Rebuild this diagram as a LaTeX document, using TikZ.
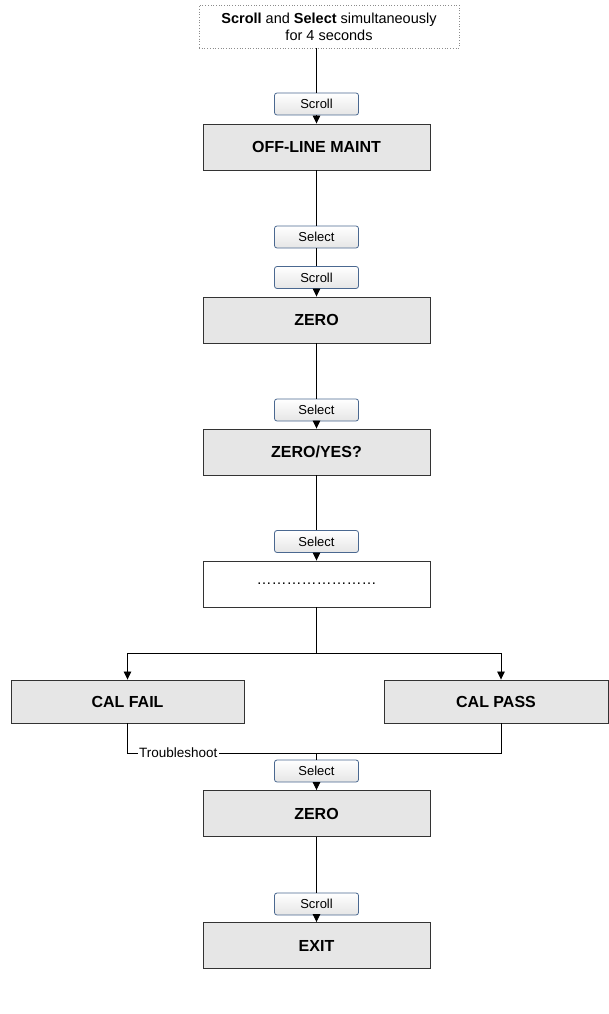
\documentclass[tikz,border=0pt]{standalone}
\usepackage{fontspec}
\setmainfont{Liberation Sans}
\usetikzlibrary{arrows.meta,shadings}
\definecolor{btnborder}{HTML}{4A6890}
\definecolor{boxfill}{HTML}{E6E6E6}
\definecolor{boxborder}{HTML}{333333}
\tikzset{
  btn/.style={draw=btnborder, line width=0.8pt, rounded corners=2.5pt, top color=white, bottom color=black!10,
    minimum width=84pt, minimum height=22pt, inner sep=0pt, font=\fontsize{13}{14}\selectfont},
  mainbox/.style={draw=boxborder, line width=0.9pt, fill=boxfill, minimum width=227pt, minimum height=46pt,
    inner sep=0pt, font=\fontsize{16}{18}\selectfont\bfseries},
  calbox/.style={mainbox, minimum height=43pt},
  topbox/.style={draw=black!45, dotted, line width=0.7pt, minimum width=260pt, minimum height=43pt,
    inner sep=0pt, align=center, font=\fontsize{14.5}{17}\selectfont},
  conn/.style={draw=black, line width=0.8pt},
  arr/.style={conn, -{Triangle[length=8pt,width=7.5pt]}},
}
\begin{document}
\begin{tikzpicture}[x=1pt,y=-1pt]
\useasboundingbox (0,0) rectangle (609,1014);
\node[topbox] (start) at (329,26.5) {\textbf{Scroll} and \textbf{Select} simultaneously\\for 4 seconds};
\node[btn] (b1) at (316.5,104) {Scroll};
\node[mainbox] (off) at (316.5,147) {OFF-LINE MAINT};
\node[btn] (b2) at (316.5,237) {Select};
\node[btn] (b3) at (316.5,277.5) {Scroll};
\node[mainbox] (zero) at (316.5,320) {ZERO};
\node[btn] (b4) at (316.5,410) {Select};
\node[mainbox] (zyes) at (316.5,452) {ZERO/YES?};
\node[btn] (b5) at (316.5,541.5) {Select};
\node[mainbox, fill=white, font=\fontsize{15}{17}\selectfont] (dots) at (316.5,584) {……………………};
\node[calbox, minimum width=233pt] (fail) at (127.5,701.5) {CAL FAIL};
\node[calbox, minimum width=224pt] (pass) at (496,701.5) {CAL PASS};
\node[btn] (b6) at (316.5,771) {Select};
\node[mainbox] (zero2) at (316.5,813.5) {ZERO};
\node[btn] (b7) at (316.5,904) {Scroll};
\node[mainbox] (exit) at (316.5,945.5) {EXIT};

\coordinate (split) at (316.5,653);
\coordinate (joinL) at (127.5,753);
\coordinate (joinR) at (501,753);
\coordinate (joinC) at (316.5,753);

\draw[conn] (start.south -| b1) -- (b1);
\draw[arr] (b1) -- (off);
\draw[conn] (off) -- (b2);
\draw[conn] (b2) -- (b3);
\draw[arr] (b3) -- (zero);
\draw[conn] (zero) -- (b4);
\draw[arr] (b4) -- (zyes);
\draw[conn] (zyes) -- (b5);
\draw[arr] (b5) -- (dots);
\draw[conn] (dots) -- (split);
\draw[arr] (split) -| (fail.north);
\draw[arr] (split) -| (pass.north -| joinR);
\draw[conn] (fail.south) -- (joinL) -- (joinR) -- (joinR |- pass.south);
\draw[conn] (joinC) -- (b6);
\draw[arr] (b6) -- (zero2);
\draw[conn] (zero2) -- (b7);
\draw[arr] (b7) -- (exit);
\node[fill=white, inner xsep=1pt, inner ysep=0pt, font=\fontsize{13.5}{15}\selectfont, anchor=west] (trouble) at (138,753) {Troubleshoot};
\end{tikzpicture}
\end{document}
